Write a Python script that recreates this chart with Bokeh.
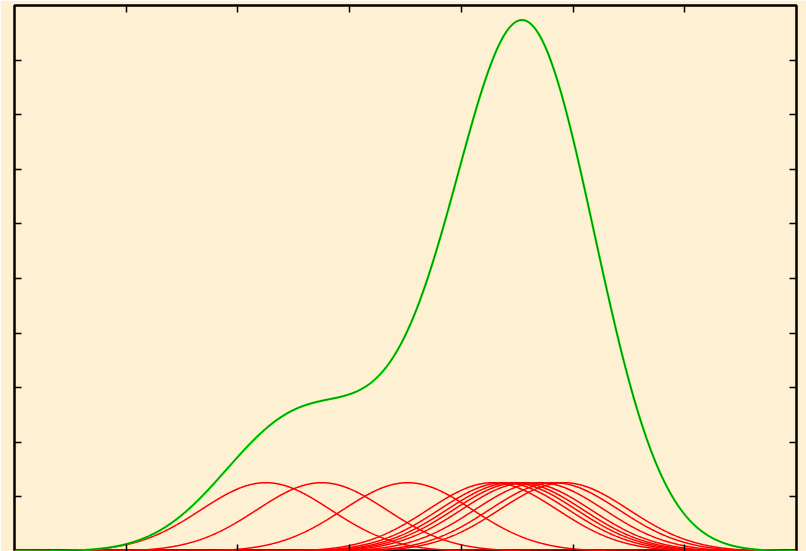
import numpy as np
from bokeh.plotting import figure
from bokeh.models import LinearAxis, FixedTicker, Range1d, CustomJSTickFormatter
from bokeh.embed import file_html
from bokeh.resources import INLINE

# data points (kernel centres)
centers = [2.25, 2.75, 3.52, 4.28, 4.38, 4.45, 4.51, 4.58, 4.70, 4.83, 4.92]
bandwidth = 0.58
kernel_height = 1.26
x_ticks = [1, 2, 3, 4, 5, 6]
y_ticks = [1, 2, 3, 4, 5, 6, 7, 8, 9]

BG = "#FEF0D3"

p = figure(width=806, height=551, output_backend="svg", toolbar_location=None,
           x_range=Range1d(0, 7), y_range=Range1d(0, 10),
           x_axis_type=None, y_axis_type=None,
           min_border_left=14, min_border_right=10, min_border_top=5, min_border_bottom=0)
p.background_fill_color = BG
p.border_fill_color = BG
p.outline_line_color = "black"
p.outline_line_width = 2.5
p.grid.visible = False

xs = np.linspace(0, 7, 1400)
total = np.zeros_like(xs)
for c in centers:
    k = kernel_height * np.exp(-0.5 * ((xs - c) / bandwidth) ** 2)
    total += k
    p.line(xs, k, line_color="#FF0000", line_width=1.5)

p.line(xs, total, line_color="#00E000", line_width=2.2)
p.line(xs, total, line_color="#000000", line_width=0.6, line_alpha=0.7)

for side, ticks in (("below", x_ticks), ("above", x_ticks), ("left", y_ticks), ("right", y_ticks)):
    ax = LinearAxis(ticker=FixedTicker(ticks=ticks),
                    formatter=CustomJSTickFormatter(code="return ''"))
    ax.axis_line_color = None
    ax.major_tick_in = 7
    ax.major_tick_out = 0
    ax.major_tick_line_color = "black"
    ax.major_tick_line_width = 1.5
    ax.minor_tick_line_color = None
    ax.major_label_standoff = 0
    p.add_layout(ax, side)

open("out.html", "w").write(file_html(p, INLINE))
